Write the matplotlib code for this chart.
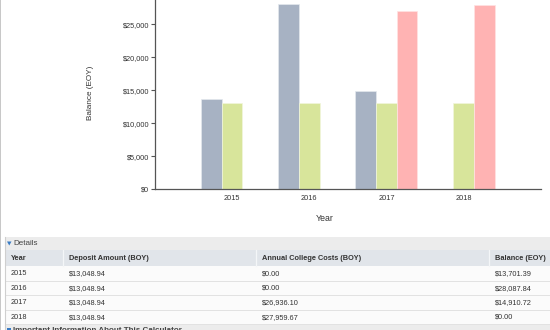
import matplotlib
matplotlib.use("Agg")
import matplotlib.pyplot as plt
from matplotlib.patches import Rectangle, Polygon
from matplotlib.ticker import FuncFormatter

plt.rcParams['font.family'] = ['Liberation Sans', 'DejaVu Sans']

# ---- data ----
years = ['2015', '2016', '2017', '2018']
balance_eoy = [13701.39, 28087.84, 14910.72, 0.00]
deposit_boy = [13048.94, 13048.94, 13048.94, 13048.94]
college_costs_boy = [0.00, 0.00, 26936.10, 27959.67]
y_ticks = [0, 5000, 10000, 15000, 20000, 25000]

col_headers = ['Year', 'Deposit Amount (BOY)', 'Annual College Costs (BOY)', 'Balance (EOY)']

c_balance = '#a7b2c3'
c_deposit = '#d8e59b'
c_costs = '#ffb3b3'

W, H = 550, 330
fig = plt.figure(figsize=(W / 100, H / 100), dpi=100)
fig.patch.set_facecolor('white')

# ---- background layer in pixel coordinates (page chrome + table) ----
bg = fig.add_axes([0, 0, 1, 1], zorder=0)
bg.set_xlim(0, W)
bg.set_ylim(H, 0)
bg.axis('off')

def money(v):
    return '${:,.2f}'.format(v)

# page left border
bg.add_patch(Rectangle((0, 0), 1.3, H, color='#c8c8c8', lw=0))

# details bar
bg.add_patch(Rectangle((5, 237), W - 5, 13, color='#ececec', lw=0))
bg.add_patch(Polygon([(7, 241.5), (11.5, 241.5), (9.25, 245.5)], closed=True, color='#3a7cc4', lw=0))
bg.text(13, 243.6, 'Details', fontsize=5.8, color='#444444', va='center', ha='left')

# header row
col_x = [5, 63, 256, 489, W]
bg.add_patch(Rectangle((5, 250), W - 5, 16, color='#e1e5ea', lw=0))
for cx in col_x[1:-1]:
    bg.plot([cx, cx], [250, 266], color='#f4f6f8', lw=0.9)
for i, h in enumerate(col_headers):
    bg.text(col_x[i] + 6, 258.2, h, fontsize=5.3, color='#333333', fontweight='bold',
            va='center', ha='left')

# data rows
row_top = 266
row_h = 14.5
for r, yr in enumerate(years):
    y0 = row_top + r * row_h
    bg.add_patch(Rectangle((5, y0), W - 5, row_h, color='#fbfbfb', lw=0))
    bg.plot([5, W], [y0 + row_h, y0 + row_h], color='#e2e2e2', lw=0.7)
    cells = [yr, money(deposit_boy[r]), money(college_costs_boy[r]), money(balance_eoy[r])]
    for i, txt in enumerate(cells):
        bg.text(col_x[i] + 6, y0 + row_h / 2 + 0.3, txt, fontsize=5.3, color='#333333',
                va='center', ha='left')

# table left border
bg.plot([5.3, 5.3], [237, H], color='#cfcfcf', lw=0.8)

# footer bar
foot_y = row_top + 4 * row_h
bg.add_patch(Rectangle((5, foot_y + 0.5), W - 5, H - foot_y, color='#ececec', lw=0))
bg.add_patch(Rectangle((7, foot_y + 3.5), 4, 4, color='#3a7cc4', lw=0))
bg.text(13, foot_y + 6.3, 'Important Information About This Calculator', fontsize=5.8,
        color='#444444', va='center', ha='left', fontweight='bold')

# ---- bar chart ----
left, right = 155 / W, 540.7 / W
bottom = 1 - 189 / H
ax = fig.add_axes([left, bottom, right - left, 1 - bottom], zorder=2)
ax.patch.set_alpha(0)

x = list(range(len(years)))
bw = 0.268
ax.bar([i - bw for i in x], balance_eoy, width=bw, color=c_balance, edgecolor='#e4e8ee', lw=0.5)
ax.bar(x, deposit_boy, width=bw, color=c_deposit, edgecolor='#f1f6dc', lw=0.5)
ax.bar([i + bw for i in x], college_costs_boy, width=bw, color=c_costs, edgecolor='#ffe3e3', lw=0.5)

ax.set_xlim(-1, 4)
ax.set_ylim(0, 28680)
ax.set_xticks(x)
ax.set_xticklabels(years)
ax.set_yticks(y_ticks)
ax.yaxis.set_major_formatter(FuncFormatter(lambda v, p: '${:,.0f}'.format(v)))

for s in ['top', 'right']:
    ax.spines[s].set_visible(False)
for s in ['left', 'bottom']:
    ax.spines[s].set_color('#555555')
    ax.spines[s].set_linewidth(0.9)

ax.tick_params(axis='y', length=3, width=0.8, color='#555555', labelsize=5.3,
               labelcolor='#333333', pad=1)
ax.tick_params(axis='x', length=0, labelsize=5.3, labelcolor='#333333', pad=4)

ax.set_ylabel('Balance (EOY)', fontsize=5.9, color='#333333', labelpad=0)
ax.yaxis.set_label_coords((94 - 155) / (540.7 - 155), (189 - 93) / 189)
ax.set_xlabel('Year', fontsize=6.3, color='#333333')
ax.xaxis.set_label_coords((325 - 155) / (540.7 - 155), -(214 - 189) / 189)

fig.savefig('out.png', dpi=100, facecolor='white')
